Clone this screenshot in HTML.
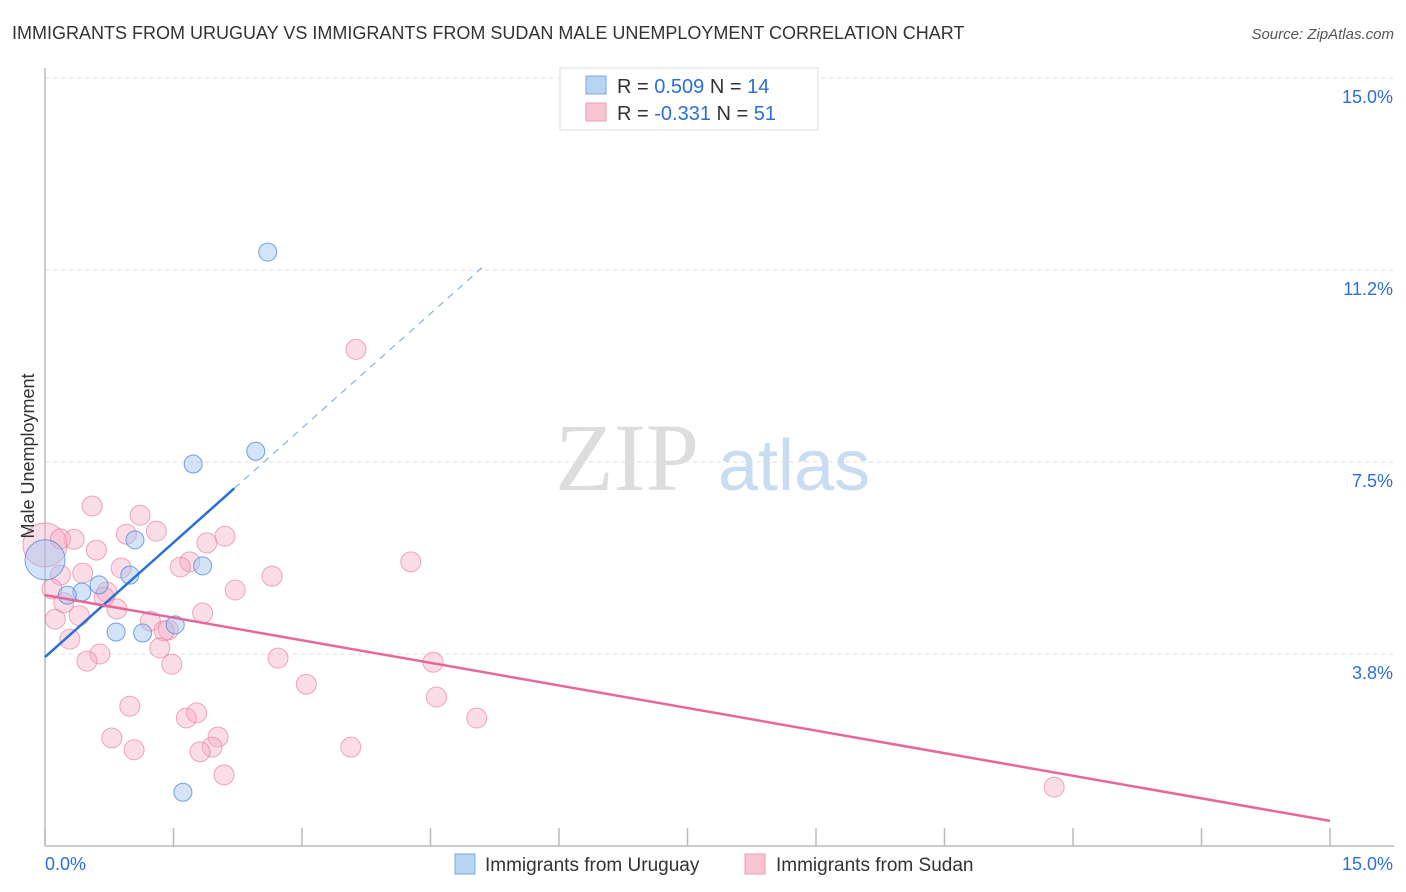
<!DOCTYPE html>
<html><head><meta charset="utf-8"><style>
body{margin:0;background:#fff;font-family:"Liberation Sans",sans-serif;}
svg{display:block}
</style></head><body>
<svg width="1406" height="892" viewBox="0 0 1406 892">
<text x="12" y="39" font-size="18" fill="#333">IMMIGRANTS FROM URUGUAY VS IMMIGRANTS FROM SUDAN MALE UNEMPLOYMENT CORRELATION CHART</text>
<text x="1394" y="39" font-size="15" fill="#555" font-style="italic" text-anchor="end">Source: ZipAtlas.com</text>
<g>
<text x="555" y="490" font-size="96" font-family="Liberation Serif,serif" fill="#ddd">ZIP</text>
<text x="718" y="490" font-size="72" fill="#c8dcf2">atlas</text>
</g>
<g id="grid"></g>
<g id="axes"></g>
<g id="marks"></g>
<g>
<rect x="560" y="68" width="258" height="62" fill="#fff" stroke="#ddd"/>
<rect x="586" y="76" width="20" height="18" fill="#b8d4f5" stroke="#7aa9e0"/>
<rect x="586" y="103" width="20" height="18" fill="#f9c5d5" stroke="#ec9ab4"/>
<text x="617" y="93" font-size="20" fill="#333">R = <tspan fill="#2b6fd6">0.509</tspan>   N = <tspan fill="#2b6fd6">14</tspan></text>
<text x="617" y="120" font-size="20" fill="#333">R = <tspan fill="#2b6fd6">-0.331</tspan>   N = <tspan fill="#2b6fd6">51</tspan></text>
</g>
<text transform="translate(34,456) rotate(-90)" font-size="18" fill="#333" text-anchor="middle">Male Unemployment</text>
<g>
<rect x="455" y="854" width="20" height="20" fill="#b8d4f5" stroke="#7aa9e0"/>
<text x="485" y="871" font-size="19" fill="#333">Immigrants from Uruguay</text>
<rect x="745" y="854" width="20" height="20" fill="#f9c5d5" stroke="#ec9ab4"/>
<text x="776" y="871" font-size="19" fill="#333">Immigrants from Sudan</text>
</g>
</svg>
<script>
const uruguayX=[2.60,2.46,1.73,1.05,1.84,0.99,0.63,0.43,0.26,0.83,1.14,1.52,1.61,0.0];
const uruguayY=[11.60,7.71,7.46,5.98,5.47,5.29,5.10,4.96,4.90,4.18,4.16,4.32,1.05,5.59];
const sudanX=[3.63,0.55,1.11,0.34,0.95,1.30,2.10,0.60,1.89,0.89,1.69,1.58,4.27,2.65,0.18,0.44,2.22,0.72,0.08,0.69,0.84,1.84,1.23,0.12,1.44,1.39,0.29,1.34,0.64,0.49,1.48,2.72,4.53,3.05,0.99,4.57,5.04,1.65,1.77,0.78,1.04,2.02,1.95,1.81,3.57,2.09,11.78,0.0,0.18,0.22,0.40];
const sudanY=[9.70,6.64,6.46,5.99,6.09,6.15,6.05,5.78,5.92,5.43,5.55,5.45,5.55,5.27,5.29,5.33,5.00,4.96,5.02,4.86,4.63,4.55,4.39,4.43,4.22,4.20,4.04,3.87,3.75,3.61,3.55,3.67,3.59,3.16,2.73,2.91,2.50,2.50,2.60,2.11,1.88,2.13,1.93,1.84,1.93,1.39,1.15,5.88,6.00,4.75,4.50];
const uruguayR=[0,3.69]; // intercept, slope handled below
const blueIntercept=3.69, blueSlope=1.491, blueSolidEnd=2.21, blueDashEnd=5.1;
const pinkStart=4.90, pinkEnd=0.49;
const yTicks=[3.8,7.5,11.2,15.0];
const yTickLabels=["3.8%","7.5%","11.2%","15.0%"];
const yGridVals=[3.75,7.5,11.25,15];
const xTicks=[0,1.5,3,4.5,6,7.5,9,10.5,12,13.5,15];

const NS="http://www.w3.org/2000/svg";
const X=v=>45+v/15*1285;
const Y=v=>846-v/15*768;
function mk(tag,parent,attrs){const e=document.createElementNS(NS,tag);for(const k in attrs)e.setAttribute(k,attrs[k]);document.getElementById(parent).appendChild(e);return e;}
yGridVals.forEach((v,i)=>{
 const l=mk('line','grid',{x1:45,x2:1394,y1:Y(v),y2:Y(v),stroke:'#ddd','stroke-dasharray':'4,4'});
 
 
 const t=mk('text','grid',{x:1393,y:Y(v)+25,'font-size':18,fill:'#2b6fd6','text-anchor':'end'});
 t.textContent=yTickLabels[i];
 
 
});
const ax=mk('line','axes',{x1:45,x2:45,y1:68,y2:846,stroke:'#bbb','stroke-width':1.5});


const bx=mk('line','axes',{x1:45,x2:1394,y1:846,y2:846,stroke:'#bbb','stroke-width':1.5});


xTicks.forEach(v=>{
 const t=mk('line','axes',{x1:X(v),x2:X(v),y1:828,y2:846,stroke:'#bbb','stroke-width':1.5});
 
 
});
const xl0=mk('text','axes',{x:45,y:870,'font-size':18,fill:'#2b6fd6'});xl0.textContent='0.0%';


const xl1=mk('text','axes',{x:1393,y:870,'font-size':18,fill:'#2b6fd6','text-anchor':'end'});xl1.textContent='15.0%';



sudanX.forEach((x,i)=>{
 const r=(x===0)?22:10;
 const c=mk('circle','marks',{cx:X(x),cy:Y(sudanY[i]),r:r,fill:'rgba(246,170,195,0.4)',stroke:'rgba(232,130,165,0.7)'});
 
 
});
uruguayX.forEach((x,i)=>{
 const r=(x===0)?20:9;
 const c=mk('circle','marks',{cx:X(x),cy:Y(uruguayY[i]),r:r,fill:'rgba(160,195,240,0.45)',stroke:'rgba(80,140,220,0.8)'});
 
 
});
const b1=mk('line','marks',{x1:X(0),y1:Y(blueIntercept),x2:X(blueSolidEnd),y2:Y(blueIntercept+blueSlope*blueSolidEnd),stroke:'#2a6fd6','stroke-width':2.5});


const b2=mk('line','marks',{x1:X(blueSolidEnd),y1:Y(blueIntercept+blueSlope*blueSolidEnd),x2:X(blueDashEnd),y2:Y(blueIntercept+blueSlope*blueDashEnd),stroke:'#8ab0e0','stroke-width':1.2,'stroke-dasharray':'7,6'});


const p=mk('line','marks',{x1:X(0),y1:Y(pinkStart),x2:X(15),y2:Y(pinkEnd),stroke:'#e8679a','stroke-width':2.5});


</script>
</body></html>
